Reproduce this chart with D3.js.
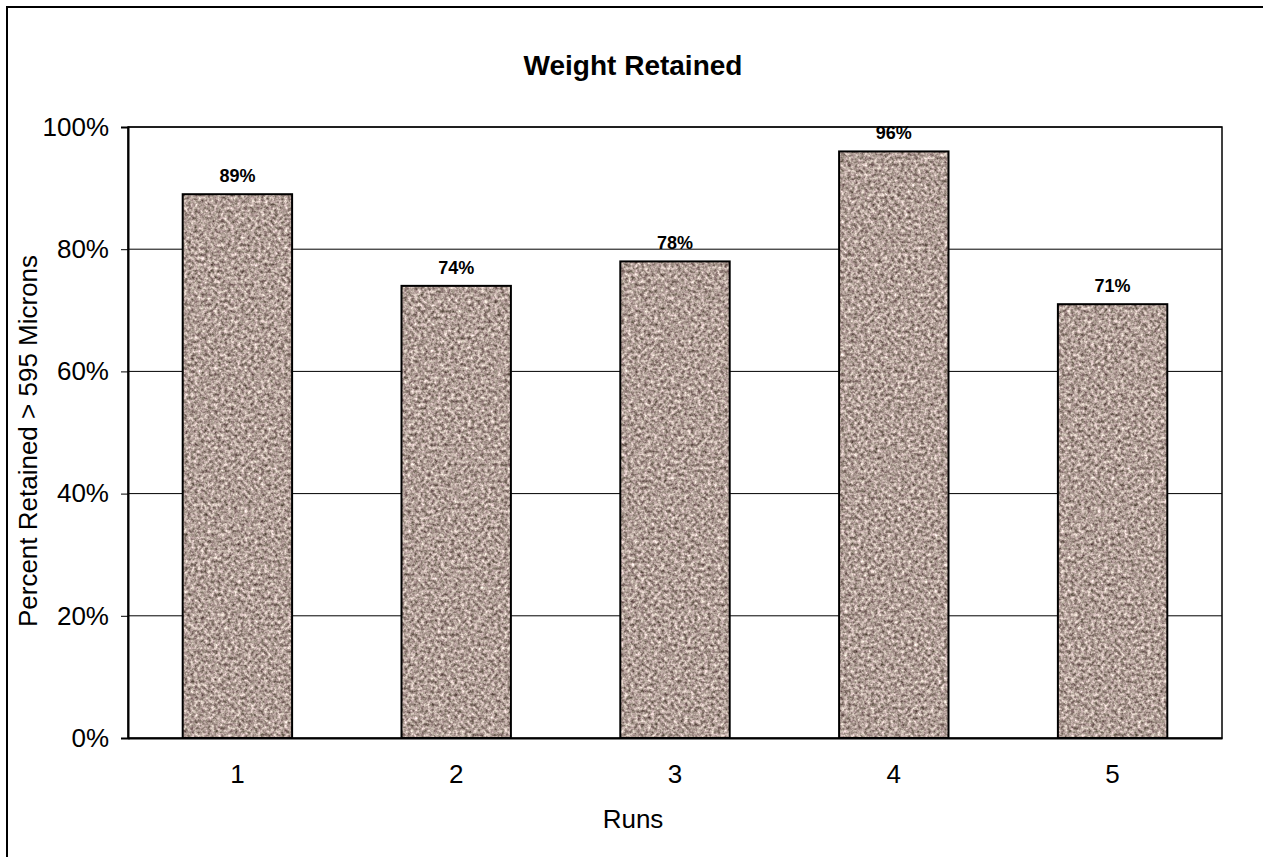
<!DOCTYPE html>
<html>
<head>
<meta charset="utf-8">
<script src="https://cdn.jsdelivr.net/npm/d3@7"></script>
<style>
  body { margin: 0; background: #fff; }
  text { font-family: "Liberation Sans", Arial, sans-serif; fill: #000; }
</style>
</head>
<body>
<div id="chart"></div>
<script>
// Data
var runs = ["1", "2", "3", "4", "5"];
var retained = [0.89, 0.74, 0.78, 0.96, 0.71];
var yTicks = [0, 0.2, 0.4, 0.6, 0.8, 1.0];

var width = 1263, height = 857;
var margin = {top: 127, right: 41, bottom: 119, left: 128};
var plotW = width - margin.left - margin.right,
    plotH = height - margin.top - margin.bottom;

var svg = d3.select("#chart").append("svg")
  .attr("width", width)
  .attr("height", height);

// granite texture for the bars
var defs = svg.append("defs");
var filter = defs.append("filter")
  .attr("id", "granite")
  .attr("color-interpolation-filters", "sRGB")
  .attr("x", 0).attr("y", 0).attr("width", 1).attr("height", 1);
filter.append("feTurbulence")
  .attr("type", "fractalNoise")
  .attr("baseFrequency", 0.3)
  .attr("numOctaves", 3)
  .attr("seed", 7)
  .attr("result", "noise");
filter.append("feColorMatrix")
  .attr("in", "noise")
  .attr("type", "matrix")
  .attr("values",
    "1.0 0.08 0 0 0.15 " +
    "1.0 0.0 0 0 0.12 " +
    "1.0 0.08 0 0 0.05 " +
    "0 0 0 0 1")
  .attr("result", "col");
filter.append("feComposite")
  .attr("in", "col")
  .attr("in2", "SourceGraphic")
  .attr("operator", "in");

// outer chart border (runs off the right / bottom edge)
svg.append("rect")
  .attr("x", 7).attr("y", 7)
  .attr("width", width + 20).attr("height", height + 20)
  .attr("fill", "#fff")
  .attr("stroke", "#000")
  .attr("stroke-width", 2);

var g = svg.append("g")
  .attr("transform", "translate(" + margin.left + "," + margin.top + ")");

// Scales
var x = d3.scaleBand()
  .domain(runs)
  .range([0, plotW])
  .paddingInner(0.5)
  .paddingOuter(0.25);

var y = d3.scaleLinear()
  .domain([0, 1])
  .range([plotH, 0]);

// gridlines
g.selectAll(".grid")
  .data(yTicks.slice(1))
  .enter().append("line")
  .attr("class", "grid")
  .attr("x1", 0).attr("x2", plotW)
  .attr("y1", function(d){ return y(d); })
  .attr("y2", function(d){ return y(d); })
  .attr("stroke", "#000")
  .attr("stroke-width", 1);

// bars
var data = runs.map(function(r, i){ return {run: r, value: retained[i]}; });

g.selectAll(".bar")
  .data(data)
  .enter().append("rect")
  .attr("class", "bar")
  .attr("x", function(d){ return x(d.run); })
  .attr("y", function(d){ return y(d.value); })
  .attr("width", x.bandwidth())
  .attr("height", function(d){ return plotH - y(d.value); })
  .attr("fill", "#a8988b")
  .attr("filter", "url(#granite)");

g.selectAll(".bar-outline")
  .data(data)
  .enter().append("rect")
  .attr("class", "bar-outline")
  .attr("x", function(d){ return x(d.run); })
  .attr("y", function(d){ return y(d.value); })
  .attr("width", x.bandwidth())
  .attr("height", function(d){ return plotH - y(d.value); })
  .attr("fill", "none")
  .attr("stroke", "#000")
  .attr("stroke-width", 2);

// value labels
g.selectAll(".label")
  .data(data)
  .enter().append("text")
  .attr("class", "label")
  .attr("x", function(d){ return x(d.run) + x.bandwidth() / 2; })
  .attr("y", function(d){ return y(d.value) - 12; })
  .attr("text-anchor", "middle")
  .style("font-size", "18px")
  .style("font-weight", "bold")
  .text(function(d){ return d3.format(".0%")(d.value); });

// plot area frame
g.append("rect")
  .attr("width", plotW).attr("height", plotH)
  .attr("fill", "none")
  .attr("stroke", "#000")
  .attr("stroke-width", 1.5);

// Axes
var yAxis = d3.axisLeft(y)
  .tickValues(yTicks)
  .tickFormat(d3.format(".0%"))
  .tickSize(7)
  .tickPadding(12);

var xAxis = d3.axisBottom(x)
  .tickSize(0)
  .tickPadding(27);

g.append("g")
  .attr("class", "axis y-axis")
  .call(yAxis)
  .call(function(s){ s.select(".domain").attr("stroke-width", 2); })
  .selectAll("text")
  .style("font-size", "26px")
  .style("font-family", "Liberation Sans, Arial, sans-serif");

g.append("g")
  .attr("class", "axis x-axis")
  .attr("transform", "translate(0," + plotH + ")")
  .call(xAxis)
  .call(function(s){ s.select(".domain").attr("stroke-width", 2); })
  .selectAll("text")
  .style("font-size", "26px")
  .style("font-family", "Liberation Sans, Arial, sans-serif");

// Title
svg.append("text")
  .attr("x", 633)
  .attr("y", 75)
  .attr("text-anchor", "middle")
  .style("font-size", "28px")
  .style("font-weight", "bold")
  .text("Weight Retained");

// Axis titles
svg.append("text")
  .attr("x", 633)
  .attr("y", 828)
  .attr("text-anchor", "middle")
  .style("font-size", "26px")
  .text("Runs");

svg.append("text")
  .attr("text-anchor", "middle")
  .attr("transform", "translate(37," + 441 + ")rotate(-90)")
  .style("font-size", "26px")
  .text("Percent Retained > 595 Microns");
</script>
</body>
</html>
